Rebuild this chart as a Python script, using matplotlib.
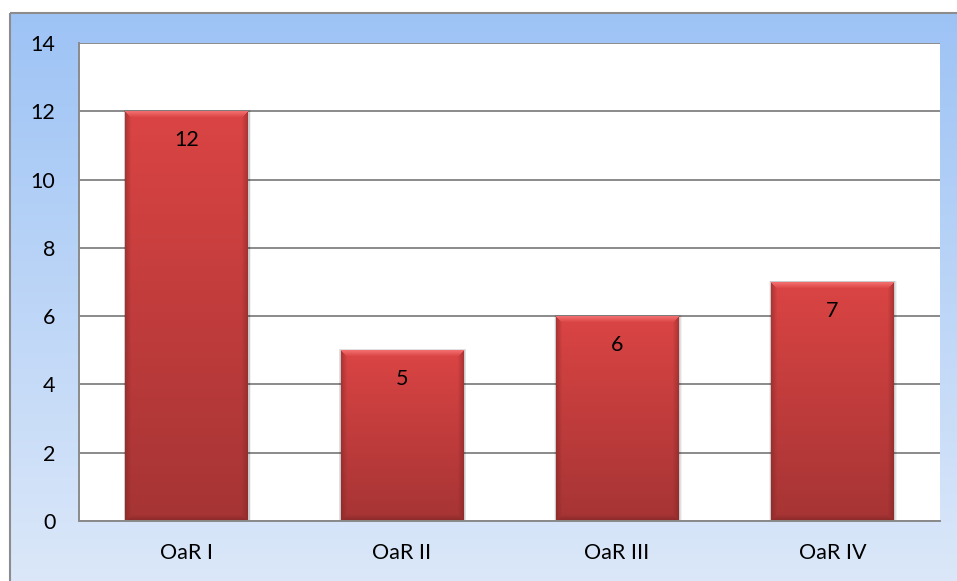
import numpy as np
import matplotlib
matplotlib.use("Agg")
import matplotlib.pyplot as plt
from matplotlib.patches import Rectangle

categories = ["OaR I", "OaR II", "OaR III", "OaR IV"]
values = [12, 5, 6, 7]
y_ticks = [0, 2, 4, 6, 8, 10, 12, 14]

plt.rcParams['font.family'] = ['Lato', 'DejaVu Sans']

W, H, DPI = 957, 581, 100
fig = plt.figure(figsize=(W / DPI, H / DPI), dpi=DPI)

# chart area background: blue vertical gradient inside a grey frame
bg = fig.add_axes([0, 0, 1, 1], zorder=-5)
bg.set_xlim(0, W)
bg.set_ylim(H, 0)
bg.axis("off")
top_c = np.array([157, 195, 245]) / 255
bot_c = np.array([220, 232, 249]) / 255
t = np.linspace(0, 1, 256)[:, None]
grad = (top_c[None, :] * (1 - t) + bot_c[None, :] * t)[:, None, :]
bg.imshow(grad, extent=[10, W + 5, H + 5, 13], aspect="auto", interpolation="bilinear")
bg.add_patch(Rectangle((10, 13), W, H, fill=False, edgecolor="#8c8c8c", linewidth=1.5))

# plot area
left, right, top, bottom = 79, 940, 43, 521
ax = fig.add_axes([left / W, 1 - bottom / H, (right - left) / W, (bottom - top) / H])
ax.set_facecolor("white")
ax.set_ylim(0, 14)
ax.set_xlim(-0.5, len(categories) - 0.5)
ax.set_yticks(y_ticks)
ax.set_yticklabels([str(v) for v in y_ticks], fontsize=15.5)
ax.set_xticks(range(len(categories)))
ax.set_xticklabels(categories, fontsize=15.5)
ax.tick_params(length=0)
ax.tick_params(axis="y", pad=17)
ax.tick_params(axis="x", pad=16)
ax.grid(axis="y", color="#8a8a8a", linewidth=1.4)
ax.set_axisbelow(True)
for s in ["right", "top"]:
    ax.spines[s].set_visible(False)
for s in ["left", "bottom"]:
    ax.spines[s].set_color("#8a8a8a")
    ax.spines[s].set_linewidth(1.4)

bars = ax.bar(range(len(categories)), values, width=0.57, color="none", zorder=2)

px_per_x = (right - left) / (len(categories))
px_per_y = (bottom - top) / 14.0

def bevel_image(nx, ny, b=6):
    top_rgb = np.array([219, 68, 68]) / 255
    bot_rgb = np.array([166, 52, 52]) / 255
    yy = np.linspace(0, 1, ny)[:, None, None]
    img = top_rgb * (1 - yy) + bot_rgb * yy
    img = np.repeat(img, nx, axis=1)
    x = np.arange(nx)[None, :]
    y = np.arange(ny)[:, None]
    # distances to each edge
    dl = np.broadcast_to(x, (ny, nx)).astype(float)
    dr = np.broadcast_to(nx - 1 - x, (ny, nx)).astype(float)
    dt = np.broadcast_to(y, (ny, nx)).astype(float)
    db = np.broadcast_to(ny - 1 - y, (ny, nx)).astype(float)
    stack = np.stack([dt, dl, dr, db])
    which = np.argmin(stack, axis=0)
    dmin = np.min(stack, axis=0)
    f = np.clip(1 - dmin / b, 0, 1)[..., None]
    light = np.array([242, 110, 110]) / 255
    dark = np.array([120, 35, 35]) / 255
    out = img.copy()
    m_top = (which == 0)[..., None]
    m_side = ((which == 1) | (which == 2))[..., None]
    m_bot = (which == 3)[..., None]
    out = np.where(m_top, img * (1 - f) + light * f, out)
    out = np.where(m_side, img * (1 - 0.45 * f) + dark * 0.45 * f, out)
    out = np.where(m_bot, img * (1 - 0.6 * f) + dark * 0.6 * f, out)
    return np.clip(out, 0, 1)

for rect, v in zip(bars, values):
    x0, w, h = rect.get_x(), rect.get_width(), rect.get_height()
    # soft drop shadow
    for k, a in [(4, 0.05), (3, 0.07), (2, 0.09)]:
        dx = k / px_per_x
        dy = k / px_per_y
        ax.add_patch(Rectangle((x0 - dx * 0.4, 0), w + dx * 1.2, h + dy * 0.3,
                               facecolor="black", alpha=a, edgecolor="none", zorder=1.5))
    nx = max(int(round(w * px_per_x)), 10)
    ny = max(int(round(h * px_per_y)), 10)
    ax.imshow(bevel_image(nx, ny), extent=[x0, x0 + w, 0, h], aspect="auto",
              interpolation="bilinear", zorder=2.5)
    ax.annotate(str(v), xy=(x0 + w / 2, h), xytext=(0, -21), textcoords="offset points",
                ha="center", va="center", fontsize=15.5, color="black", zorder=4)

ax.set_xlim(-0.5, len(categories) - 0.5)
ax.set_ylim(0, 14)

fig.savefig("out.png", dpi=DPI)
